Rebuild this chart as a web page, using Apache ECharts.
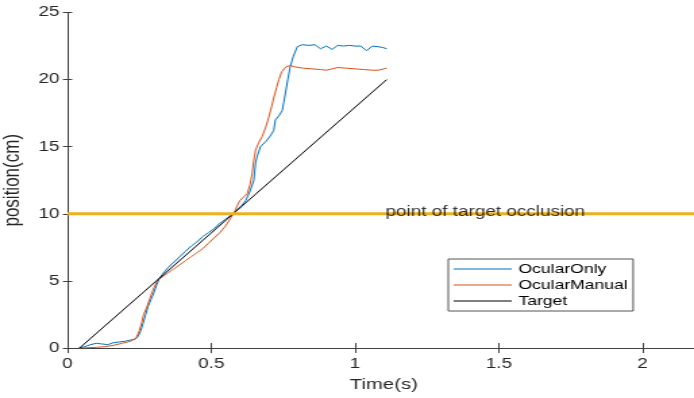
<!DOCTYPE html>
<html>
<head>
<meta charset="utf-8">
<script src="https://cdn.jsdelivr.net/npm/echarts@6/dist/echarts.min.js"></script>
<style>
  html, body { margin: 0; padding: 0; background: #fff; overflow: hidden; }
  /* the source picture is stretched sideways, so the chart is too */
  #main { width: 514px; height: 398px; transform: scaleX(1.3502); transform-origin: 0 0; }
</style>
</head>
<body>
<div id="main"></div>
<script>
const onlyTime = [0.04, 0.06, 0.08, 0.1, 0.12, 0.14, 0.16, 0.18, 0.2, 0.22, 0.235, 0.245, 0.255, 0.263, 0.272, 0.28, 0.29, 0.3, 0.31, 0.32, 0.33, 0.35, 0.37, 0.39, 0.41, 0.43, 0.45, 0.47, 0.49, 0.51, 0.53, 0.55, 0.575, 0.59, 0.605, 0.62, 0.635, 0.648, 0.654, 0.66, 0.671, 0.69, 0.705, 0.717, 0.723, 0.735, 0.747, 0.752, 0.758, 0.766, 0.775, 0.785, 0.799, 0.816, 0.84, 0.86, 0.88, 0.9, 0.92, 0.94, 0.96, 0.98, 1.0, 1.02, 1.04, 1.06, 1.08, 1.095, 1.11];
const onlyPos = [0, 0.1, 0.25, 0.35, 0.3, 0.25, 0.4, 0.45, 0.5, 0.6, 0.65, 0.85, 1.3, 1.85, 2.5, 3.1, 3.6, 4.1, 4.7, 5.2, 5.5, 6.0, 6.4, 6.8, 7.2, 7.6, 7.9, 8.3, 8.6, 8.9, 9.3, 9.6, 10.0, 10.3, 10.6, 11.0, 11.7, 12.5, 13.8, 14.3, 15.0, 15.4, 15.8, 16.2, 17.0, 17.3, 17.7, 18.3, 19.0, 20.0, 21.0, 21.7, 22.45, 22.6, 22.55, 22.6, 22.3, 22.5, 22.25, 22.55, 22.5, 22.55, 22.5, 22.5, 22.15, 22.5, 22.45, 22.4, 22.3];

const manualTime = [0.04, 0.07, 0.1, 0.13, 0.16, 0.19, 0.21, 0.225, 0.24, 0.25, 0.258, 0.265, 0.275, 0.285, 0.295, 0.305, 0.315, 0.33, 0.35, 0.37, 0.39, 0.41, 0.43, 0.45, 0.47, 0.49, 0.51, 0.53, 0.55, 0.565, 0.58, 0.59, 0.6, 0.615, 0.625, 0.635, 0.642, 0.648, 0.654, 0.665, 0.677, 0.69, 0.7, 0.71, 0.718, 0.727, 0.735, 0.745, 0.76, 0.775, 0.79, 0.82, 0.85, 0.88, 0.9, 0.92, 0.94, 0.97, 1.0, 1.03, 1.06, 1.08, 1.1, 1.11];
const manualPos = [0, 0.02, 0.05, 0.1, 0.2, 0.35, 0.45, 0.55, 0.8, 1.3, 1.9, 2.5, 3.0, 3.6, 4.2, 4.7, 5.1, 5.3, 5.6, 5.9, 6.2, 6.5, 6.8, 7.1, 7.4, 7.8, 8.2, 8.6, 9.1, 9.6, 10.1, 10.6, 11.0, 11.3, 11.5, 12.2, 13.0, 14.0, 14.75, 15.3, 15.75, 16.5, 17.2, 18.0, 18.7, 19.4, 20.0, 20.6, 20.95, 21.05, 20.95, 20.85, 20.8, 20.75, 20.7, 20.8, 20.9, 20.85, 20.8, 20.75, 20.7, 20.7, 20.8, 20.85];

const targetTime = [0.042, 1.11];
const targetPos = [0, 20];

const occlusionLevel = 10;
const occlusionLabelTime = 1.106;

const xTicks = { min: 0, max: 2.2, interval: 0.5 };
const yTicks = { min: 0, max: 25, interval: 5 };

const pairs = (t, v) => t.map((x, i) => [x, v[i]]);

const font = "'Liberation Sans', Arial, sans-serif";
const axisColor = "#404040";

const myChart = echarts.init(document.getElementById("main"));

const xBase = {
  type: "value",
  min: xTicks.min,
  max: xTicks.max,
  interval: xTicks.interval,
  axisLine: { show: true, lineStyle: { color: axisColor, width: 1 } },
  axisTick: { show: true, inside: true, length: 5, lineStyle: { color: axisColor } },
  splitLine: { show: false },
};
const yBase = {
  type: "value",
  min: yTicks.min,
  max: yTicks.max,
  interval: yTicks.interval,
  axisLine: { show: true, lineStyle: { color: axisColor, width: 1 } },
  axisTick: { show: true, inside: true, length: 3.5, lineStyle: { color: axisColor } },
  splitLine: { show: false },
};

myChart.setOption({
  animation: false,
  backgroundColor: "#fff",
  textStyle: { fontFamily: font },
  grid: { left: 50, right: -4.5, top: 12.5, bottom: 50, containLabel: false, outerBoundsMode: "none" },
  xAxis: [
    {
      ...xBase,
      position: "bottom",
      name: "Time(s)",
      nameLocation: "middle",
      nameGap: 29,
      nameTextStyle: { color: "#262626", fontSize: 15, fontFamily: font },
      axisLabel: { color: "#262626", fontSize: 14, margin: 9, fontFamily: font, showMaxLabel: false },
    },
    {
      ...xBase,
      position: "top",
      axisLabel: { show: false },
    },
  ],
  yAxis: [
    {
      ...yBase,
      position: "left",
      name: "position(cm)",
      nameLocation: "middle",
      nameGap: 30,
      nameRotate: 90,
      nameTextStyle: { color: "#262626", fontSize: 17, fontFamily: font },
      axisLabel: { color: "#262626", fontSize: 14, margin: 6, fontFamily: font },
    },
    {
      ...yBase,
      position: "right",
      axisLabel: { show: false },
    },
  ],
  legend: {
    data: ["OcularOnly", "OcularManual", "Target"],
    orient: "vertical",
    left: 332,
    top: 259,
    padding: [3, 4, 3, 4],
    itemGap: 2,
    icon: "rect",
    itemWidth: 43,
    itemHeight: 1,
    borderColor: "#555",
    borderWidth: 1,
    borderRadius: 0,
    backgroundColor: "#fff",
    textStyle: { color: "#000", fontSize: 13, fontFamily: font, lineHeight: 14 },
  },
  series: [
    {
      name: "OcularOnly",
      type: "line",
      symbol: "none",
      z: 2,
      lineStyle: { color: "#0072BD", width: 1 },
      itemStyle: { color: "#0072BD" },
      data: pairs(onlyTime, onlyPos),
    },
    {
      name: "OcularManual",
      type: "line",
      symbol: "none",
      z: 2,
      lineStyle: { color: "#D95319", width: 1 },
      itemStyle: { color: "#D95319" },
      data: pairs(manualTime, manualPos),
    },
    {
      name: "Target",
      type: "line",
      symbol: "none",
      z: 2,
      lineStyle: { color: "#000", width: 1 },
      itemStyle: { color: "#000" },
      data: pairs(targetTime, targetPos),
    },
    {
      name: "occlusion",
      type: "line",
      symbol: "none",
      z: 3,
      lineStyle: { color: "#EDB120", width: 3 },
      data: [[xTicks.min, occlusionLevel], [xTicks.max, occlusionLevel]],
    },
    {
      name: "occlusionLabel",
      type: "scatter",
      symbolSize: 0,
      z: 4,
      data: [[occlusionLabelTime, occlusionLevel]],
      label: {
        show: true,
        position: "right",
        distance: 0,
        offset: [0, -2],
        formatter: "point of target occlusion",
        color: "#000",
        fontSize: 14,
        fontFamily: font,
      },
    },
  ],
});
</script>
</body>
</html>
